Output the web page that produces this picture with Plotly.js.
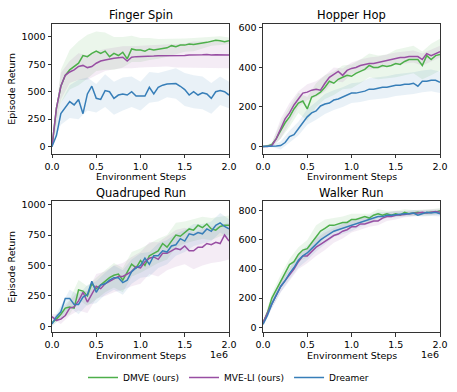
<!DOCTYPE html>
<html>
<head>
<meta charset="utf-8">
<script src="https://cdn.plot.ly/plotly-3.0.1.min.js"></script>
<style>
  body { margin: 0; background: #fff; }
  #chart { width: 457px; height: 392px; }
</style>
</head>
<body>
<div id="chart"></div>
<script>
// environment steps (in millions), one point every 50k steps
const steps = [0,0.05,0.1,0.15,0.2,0.25,0.3,0.35,0.4,0.45,0.5,0.55,0.6,0.65,0.7,0.75,0.8,0.85,0.9,0.95,1.0,
  1.05,1.1,1.15,1.2,1.25,1.3,1.35,1.4,1.45,1.5,1.55,1.6,1.65,1.7,1.75,1.8,1.85,1.9,1.95,2.0];
// band points every 100k steps
const bandSteps = [0,0.1,0.2,0.3,0.4,0.5,0.6,0.7,0.8,0.9,1.0,1.1,1.2,1.3,1.4,1.5,1.6,1.7,1.8,1.9,2.0];

const seriesNames = ['DMVE (ours)', 'MVE-LI (ours)', 'Dreamer'];
const seriesColors = ['#4daf4a', '#984ea3', '#377eb8'];
const panelTitles = ['Finger Spin', 'Hopper Hop', 'Quadruped Run', 'Walker Run'];

// Finger Spin
const fingerDMVE = [0,350,550,650,700,730,760,830,820,850,870,850,870,820,850,830,860,800,890,880,880,
  870,890,880,890,895,900,920,910,925,925,935,930,940,945,950,960,970,965,955,965];
const fingerMVELI = [0,350,550,650,680,700,730,740,720,730,760,780,790,800,805,810,815,780,815,820,820,
  822,825,825,828,828,830,830,830,832,830,835,838,835,838,840,835,838,836,838,835];
const fingerDreamer = [0,100,300,350,410,380,430,300,480,550,440,430,510,500,440,470,480,470,500,460,460,
  460,540,480,540,560,570,570,575,550,520,470,500,470,490,480,440,500,510,500,470];
const fingerDMVESd = [10,150,180,200,200,180,170,150,140,120,110,100,90,80,70,60,60,50,40,40,30];
const fingerMVELISd = [10,120,100,120,110,110,100,100,100,100,100,100,100,100,110,110,120,120,120,120,120];
const fingerDreamerSd = [10,100,150,180,150,130,150,150,150,140,130,140,130,120,140,150,150,150,140,130,120];

// Hopper Hop
const hopperDMVE = [0,2,10,40,80,120,150,190,220,230,190,250,260,275,300,330,320,340,350,360,355,
  370,380,390,410,400,400,410,405,410,420,415,430,440,440,440,410,460,440,460,465];
const hopperMVELI = [0,0,5,40,90,140,170,210,240,270,275,285,290,285,320,350,365,380,360,385,395,
  400,410,415,420,420,425,430,435,440,445,450,450,455,455,455,440,470,460,470,480];
const hopperDreamer = [0,0,2,3,5,20,50,60,90,120,150,170,180,205,215,220,235,240,250,260,270,
  270,275,280,290,290,295,300,300,305,310,310,315,315,320,305,330,330,335,335,325];
const hopperDMVESd = [0,10,40,50,50,60,60,60,60,60,60,60,60,60,60,70,70,70,70,80,80];
const hopperMVELISd = [0,10,50,50,40,40,40,40,35,35,30,30,30,30,30,30,30,30,30,30,30];
const hopperDreamerSd = [0,5,20,30,35,40,45,50,50,50,50,50,55,55,55,55,55,55,55,55,55];

// Quadruped Run
const quadDMVE = [30,60,100,150,160,150,300,290,250,350,310,340,370,400,420,430,380,450,510,480,540,
  500,580,600,620,680,650,700,750,740,770,800,790,830,810,840,800,790,820,830,830];
const quadMVELI = [80,50,60,90,150,160,210,280,200,260,330,310,350,370,390,410,410,430,450,490,480,
  530,560,570,550,600,600,620,640,630,660,620,620,650,650,680,670,690,680,750,700];
const quadDreamer = [20,80,120,230,230,180,180,240,260,370,280,340,350,380,400,400,360,380,450,480,500,
  560,510,580,580,620,610,660,670,720,700,760,750,770,760,800,780,830,850,820,800];
const quadDMVESd = [20,40,60,80,80,90,90,100,100,100,100,100,100,100,100,90,90,90,90,80,80];
const quadMVELISd = [20,40,60,80,90,100,100,110,110,120,130,130,140,140,150,150,150,150,150,150,150];
const quadDreamerSd = [20,50,70,80,80,90,90,100,100,100,100,100,100,100,90,90,90,80,80,80,80];

// Walker Run
const walkerDMVE = [30,100,200,260,320,380,430,450,500,530,540,580,620,660,680,700,700,710,720,720,740,
  740,750,760,750,770,780,770,780,770,780,770,790,780,785,790,785,790,790,790,800];
const walkerMVELI = [30,100,160,220,280,320,360,400,450,490,490,520,550,570,590,610,630,640,660,670,690,
  690,710,710,720,730,730,750,760,760,770,770,775,780,780,785,790,785,790,795,790];
const walkerDreamer = [20,80,160,220,280,320,370,410,460,490,510,540,570,600,620,640,660,670,680,690,700,
  710,720,735,740,750,760,760,770,770,775,775,780,780,785,770,780,790,785,790,780];
const walkerDMVESd = [10,30,40,40,50,60,80,60,50,40,40,30,30,30,20,20,20,20,20,20,20];
const walkerMVELISd = [10,30,40,40,50,50,60,60,50,50,40,40,30,30,30,30,20,20,20,20,20];
const walkerDreamerSd = [10,30,40,40,50,50,50,50,40,40,40,30,30,30,20,20,20,20,20,20,20];

const panels = [
  { means: [fingerDMVE, fingerMVELI, fingerDreamer], sds: [fingerDMVESd, fingerMVELISd, fingerDreamerSd] },
  { means: [hopperDMVE, hopperMVELI, hopperDreamer], sds: [hopperDMVESd, hopperMVELISd, hopperDreamerSd] },
  { means: [quadDMVE, quadMVELI, quadDreamer], sds: [quadDMVESd, quadMVELISd, quadDreamerSd] },
  { means: [walkerDMVE, walkerMVELI, walkerDreamer], sds: [walkerDMVESd, walkerMVELISd, walkerDreamerSd] },
];

const W = 457, H = 392;
// axes boxes in pixels: [left, right, top, bottom]
const boxes = [[52, 229, 24, 154], [263, 440, 24, 154], [52, 229, 202, 333], [263, 440, 202, 333]];
const yRanges = [[-64, 1118], [-36, 620], [-47, 1025], [-34, 864]];
const yDticks = [250, 200, 250, 200];

function hexToRgba(hex, a) {
  const n = parseInt(hex.slice(1), 16);
  return `rgba(${(n >> 16) & 255},${(n >> 8) & 255},${n & 255},${a})`;
}

const traces = [];
const layout = {
  width: W, height: H,
  margin: { l: 0, r: 0, t: 0, b: 0 },
  paper_bgcolor: '#fff', plot_bgcolor: '#fff',
  font: { family: 'DejaVu Sans', size: 9.5, color: '#000' },
  showlegend: true,
  legend: {
    orientation: 'h', x: 0.5, xanchor: 'center', y: 1 - 378 / H, yanchor: 'middle',
    font: { size: 9 }, itemwidth: 30, tracegroupgap: 0,
  },
  annotations: [],
};

function note(text, px, py, opts) {
  layout.annotations.push(Object.assign({
    text, xref: 'paper', yref: 'paper', x: px / W, y: 1 - py / H,
    xanchor: 'center', yanchor: 'middle', showarrow: false, borderpad: 0,
    font: { size: 9.5 },
  }, opts || {}));
}

panels.forEach((p, i) => {
  const k = i + 1;
  const xa = 'x' + (k === 1 ? '' : k), ya = 'y' + (k === 1 ? '' : k);
  const [l, r, t, b] = boxes[i];

  // shaded bands first
  p.means.forEach((m, s) => {
    const upper = bandSteps.map((_, j) => m[2 * j] + p.sds[s][j]);
    const lower = bandSteps.map((_, j) => m[2 * j] - p.sds[s][j]);
    traces.push({
      x: bandSteps.concat(bandSteps.slice().reverse()),
      y: upper.concat(lower.reverse()),
      xaxis: xa, yaxis: ya,
      mode: 'lines', fill: 'toself', line: { width: 0 },
      fillcolor: hexToRgba(seriesColors[s], 0.11),
      showlegend: false, hoverinfo: 'skip',
    });
  });
  p.means.forEach((m, s) => {
    traces.push({
      x: steps, y: m, xaxis: xa, yaxis: ya,
      mode: 'lines', name: seriesNames[s],
      line: { color: seriesColors[s], width: 1.5 },
      showlegend: i === 0,
    });
  });

  const axisCommon = {
    showline: true, mirror: true, linecolor: '#333', linewidth: 1,
    ticks: 'outside', ticklen: 3.5, tickcolor: '#333', showgrid: false, zeroline: false,
    tickfont: { size: 9.5 },
  };
  layout['xaxis' + (k === 1 ? '' : k)] = Object.assign({}, axisCommon, {
    domain: [l / W, r / W], range: [0, 2], dtick: 0.5, tickformat: '.1f',
    anchor: ya,
  });
  layout['yaxis' + (k === 1 ? '' : k)] = Object.assign({}, axisCommon, {
    domain: [1 - b / H, 1 - t / H], range: yRanges[i], dtick: yDticks[i],
    anchor: xa,
  });

  note(panelTitles[i], (l + r) / 2, t - 9, { font: { size: 11.5 } });
  note('Environment Steps', (l + r) / 2, b + 23);
  if (i % 2 === 0) note('Episode Return', 12, (t + b) / 2, { textangle: -90 });
  if (i >= 2) note('1e6', r, b + 22, { xanchor: 'right' });
});

Plotly.newPlot('chart', traces, layout, { staticPlot: true });
</script>
</body>
</html>
